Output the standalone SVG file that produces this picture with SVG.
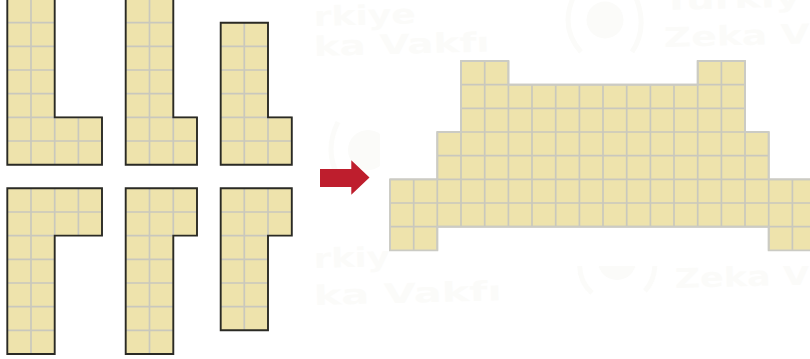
<svg xmlns="http://www.w3.org/2000/svg" width="810" height="359" viewBox="0 0 810 359">
<style>
.wm{font-family:"DejaVu Sans",sans-serif;font-weight:700;font-size:27px;fill:#fbfbf9}
.ws{fill:#fbfbf9}
.wa{fill:none;stroke:#fbfbf9;stroke-width:5}
.fill{fill:#eee3ac;stroke:none}
.grid{fill:none;stroke:#c9c8bd;stroke-width:1.7}
.edge{fill:none;stroke:#2a2a24;stroke-width:1.9;stroke-linejoin:miter}
.edge2{fill:none;stroke:#cbcbc4;stroke-width:1.9}
</style>
<defs>
<clipPath id="cl2"><rect x="314" y="120" width="66" height="60"/></clipPath>
<clipPath id="cl4"><rect x="560" y="266" width="250" height="50"/></clipPath>
<clipPath id="cl5"><rect x="560" y="0" width="250" height="60"/></clipPath>
</defs>
<rect width="810" height="359" fill="#fff"/>
<g id="watermark">
<text class="wm" x="314" y="26" textLength="102" lengthAdjust="spacingAndGlyphs" transform="rotate(-1.5 314 26)">rkiye</text>
<text class="wm" x="314" y="56" textLength="176" lengthAdjust="spacingAndGlyphs" transform="rotate(-1.5 314 56)">ka Vakfı</text>
<g clip-path="url(#cl5)">
<circle cx="605" cy="20" r="18.5" class="ws"/>
<path class="wa" d="M573 -2Q560 28 581 52M636 -2Q648 28 632 52"/>
<text class="wm" x="663" y="10" textLength="138" lengthAdjust="spacingAndGlyphs" transform="rotate(-1.5 663 10)">Türkiy</text>
<text class="wm" x="664" y="47" textLength="146" lengthAdjust="spacingAndGlyphs" transform="rotate(-1.5 664 47)">Zeka V</text>
</g>
<g clip-path="url(#cl2)">
<circle cx="368" cy="150" r="20" class="ws"/>
<path class="wa" d="M338 122Q324 150 338 176"/>
</g>
<text class="wm" x="314" y="268" textLength="76" lengthAdjust="spacingAndGlyphs" transform="rotate(-1.5 314 268)">rkiy</text>
<text class="wm" x="314" y="305" textLength="188" lengthAdjust="spacingAndGlyphs" transform="rotate(-1.5 314 305)">ka Vakfı</text>
<g clip-path="url(#cl4)">
<circle cx="617" cy="261" r="19" class="ws"/>
<path class="wa" d="M580 262Q578 280 592 293M655 262Q655 280 645 291"/>
<text class="wm" x="675" y="288" textLength="135" lengthAdjust="spacingAndGlyphs" transform="rotate(-1.5 675 288)">Zeka V</text>
</g>
</g>
<g id="connectors">
<path id="arrow" d="M320 169H351.3V160.3L369.5 177.6L351.3 194.7V187H320Z" fill="#be1e2d"/>
</g>
<g id="shape-top-1">
<path class="fill" d="M7.3 -1H54.7V117.4H102V164.7H7.3Z"/>
<path class="grid" d="M31 -1V164.7M54.7 117.4V164.7M78.4 117.4V164.7M7.3 22.7H54.7M7.3 46.4H54.7M7.3 70H54.7M7.3 93.7H54.7M7.3 117.4H102M7.3 141H102"/>
<path class="edge" d="M7.3 -1H54.7V117.4H102V164.7H7.3Z"/>
</g>
<g id="shape-top-2">
<path class="fill" d="M125.7 -1H173.3V117.4H197V164.7H125.7Z"/>
<path class="grid" d="M149.5 -1V164.7M173.3 117.4V164.7M125.7 22.7H173.3M125.7 46.4H173.3M125.7 70H173.3M125.7 93.7H173.3M125.7 117.4H197M125.7 141H197"/>
<path class="edge" d="M125.7 -1H173.3V117.4H197V164.7H125.7Z"/>
</g>
<g id="shape-top-3">
<path class="fill" d="M220.7 22.7H268V117.4H291.8V164.7H220.7Z"/>
<path class="grid" d="M244.3 22.7V164.7M268 117.4V164.7M220.7 46.4H268M220.7 70H268M220.7 93.7H268M220.7 117.4H291.8M220.7 141H291.8"/>
<path class="edge" d="M220.7 22.7H268V117.4H291.8V164.7H220.7Z"/>
</g>
<g id="shape-bottom-1">
<path class="fill" d="M7.3 188.3H102V235.6H54.7V354H7.3Z"/>
<path class="grid" d="M31 188.3V354M54.7 188.3V235.6M78.4 188.3V235.6M7.3 212H102M7.3 235.6H54.7M7.3 259.3H54.7M7.3 283H54.7M7.3 306.7H54.7M7.3 330.3H54.7"/>
<path class="edge" d="M7.3 188.3H102V235.6H54.7V354H7.3Z"/>
</g>
<g id="shape-bottom-2">
<path class="fill" d="M125.7 188.3H197V235.6H173.3V354H125.7Z"/>
<path class="grid" d="M149.5 188.3V354M173.3 188.3V235.6M125.7 212H197M125.7 235.6H173.3M125.7 259.3H173.3M125.7 283H173.3M125.7 306.7H173.3M125.7 330.3H173.3"/>
<path class="edge" d="M125.7 188.3H197V235.6H173.3V354H125.7Z"/>
</g>
<g id="shape-bottom-3">
<path class="fill" d="M220.7 188.3H291.8V235.6H268V330.3H220.7Z"/>
<path class="grid" d="M244.3 188.3V330.3M268 188.3V235.6M220.7 212H291.8M220.7 235.6H268M220.7 259.3H268M220.7 283H268M220.7 306.7H268"/>
<path class="edge" d="M220.7 188.3H291.8V235.6H268V330.3H220.7Z"/>
</g>
<g id="assembled-shape">
<path class="fill" d="M390 179.4H437.3V132H461V61H508.4V84.7H697.7V61H745V132H768.7V179.4H816V250.4H768.7V226.7H437.3V250.4H390Z"/>
<path class="grid" d="M413.7 179.4V250.4M437.3 132V250.4M461 61V226.7M484.7 61V226.7M508.4 61V226.7M532 84.7V226.7M555.7 84.7V226.7M579.4 84.7V226.7M603 84.7V226.7M626.7 84.7V226.7M650.4 84.7V226.7M674 84.7V226.7M697.7 61V226.7M721.4 61V226.7M745 61V226.7M768.7 132V250.4M792.4 179.4V250.4M461 84.7H745M461 108.3H745M437.3 132H768.7M437.3 155.7H768.7M390 179.4H816M390 203H816M390 226.7H816"/>
<path class="edge2" d="M390 179.4H437.3V132H461V61H508.4V84.7H697.7V61H745V132H768.7V179.4H816V250.4H768.7V226.7H437.3V250.4H390Z"/>
</g>
</svg>
